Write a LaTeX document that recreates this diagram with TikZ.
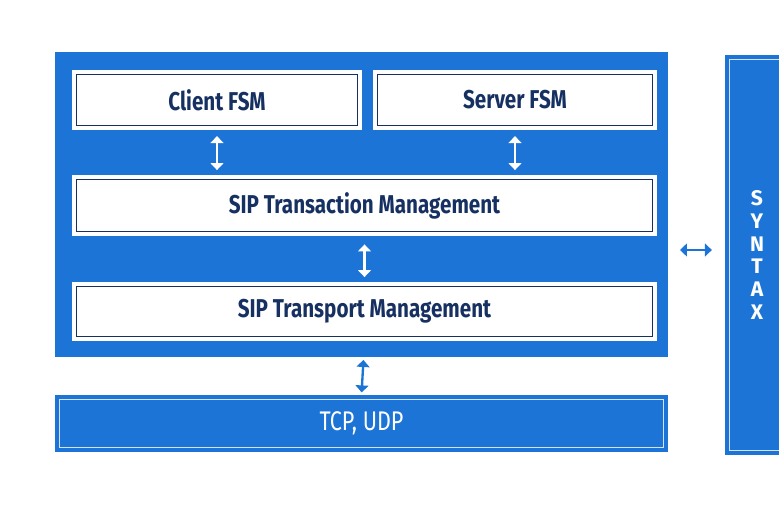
\documentclass[tikz,border=0pt]{standalone}
\usepackage{fontspec}
\usetikzlibrary{arrows.meta}
\newfontfamily\boxfont[FakeStretch=0.8]{Fira Sans}
\newfontfamily\syntaxfont{Fira Sans}
\definecolor{sipblue}{RGB}{28,116,214}
\definecolor{sipnavy}{RGB}{22,48,98}

\begin{document}
\begin{tikzpicture}[x=0.03cm,y=-0.03cm]

\tikzset{InnerLine/.style={path picture={\draw[#1,line width=0.8pt]
      ([shift={(3.5pt,3.5pt)}]path picture bounding box.south west) rectangle
      ([shift={(-3.5pt,-3.5pt)}]path picture bounding box.north east);}},
  WhiteBox/.style={fill=white,inner sep=0pt,InnerLine=sipnavy,text=sipnavy,
      font=\boxfont\bfseries\fontsize{22}{26}\selectfont},
  BlueBox/.style={fill=sipblue,inner sep=0pt,InnerLine=white!80!sipblue,text=white,
      font=\boxfont\fontsize{23}{26}\selectfont},
  LinkArrow/.style={{Triangle[width=11pt,length=6pt]}-{Triangle[width=11pt,length=6pt]},
      line width=2pt,#1}}

  \useasboundingbox (0,0) rectangle (779,515);
  \clip (0,0) rectangle (779,515);

  \node[fill=sipblue,minimum width=18.39cm,minimum height=9.15cm] (sipbox) at (361.5,204.5) {};

  \node[WhiteBox,minimum width=8.7cm,minimum height=1.8cm] (client) at (217,100) {Client FSM};
  \node[WhiteBox,minimum width=8.52cm,minimum height=1.8cm] (server) at (515,100) {Server FSM};
  \node[WhiteBox,minimum width=17.55cm,minimum height=1.83cm] (trans) at (364.5,205.5) {SIP Transaction Management};
  \node[WhiteBox,minimum width=17.55cm,minimum height=1.77cm] (transport) at (364.5,311.5) {SIP Transport Management};

  \node[BlueBox,minimum width=18.39cm,minimum height=1.71cm] (tcp) at (361.5,423.5) {TCP, UDP};
  \node[BlueBox,minimum width=1.92cm,minimum height=12cm,align=center,
        font=\syntaxfont\bfseries\fontsize{18}{19.6}\selectfont] (syntax) at (757,255)
        {S\\Y\\N\\T\\A\\X};

  \coordinate (link) at (696,250);

  \draw[LinkArrow=white,shorten <=5pt,shorten >=4pt] (client.south) -- (client.south |- trans.north);
  \draw[LinkArrow=white,shorten <=5pt,shorten >=4pt] (server.south) -- (server.south |- trans.north);
  \draw[LinkArrow=white,shorten <=7pt,shorten >=4pt] (trans.south) -- (transport.north);
  \draw[LinkArrow=sipblue,shorten <=16pt,shorten >=2pt] (transport.south) -- (tcp.north);
  \draw[LinkArrow=sipblue,shorten <=10pt,shorten >=11pt] (sipbox.east |- link) -- (syntax.west |- link);

\end{tikzpicture}
\end{document}
